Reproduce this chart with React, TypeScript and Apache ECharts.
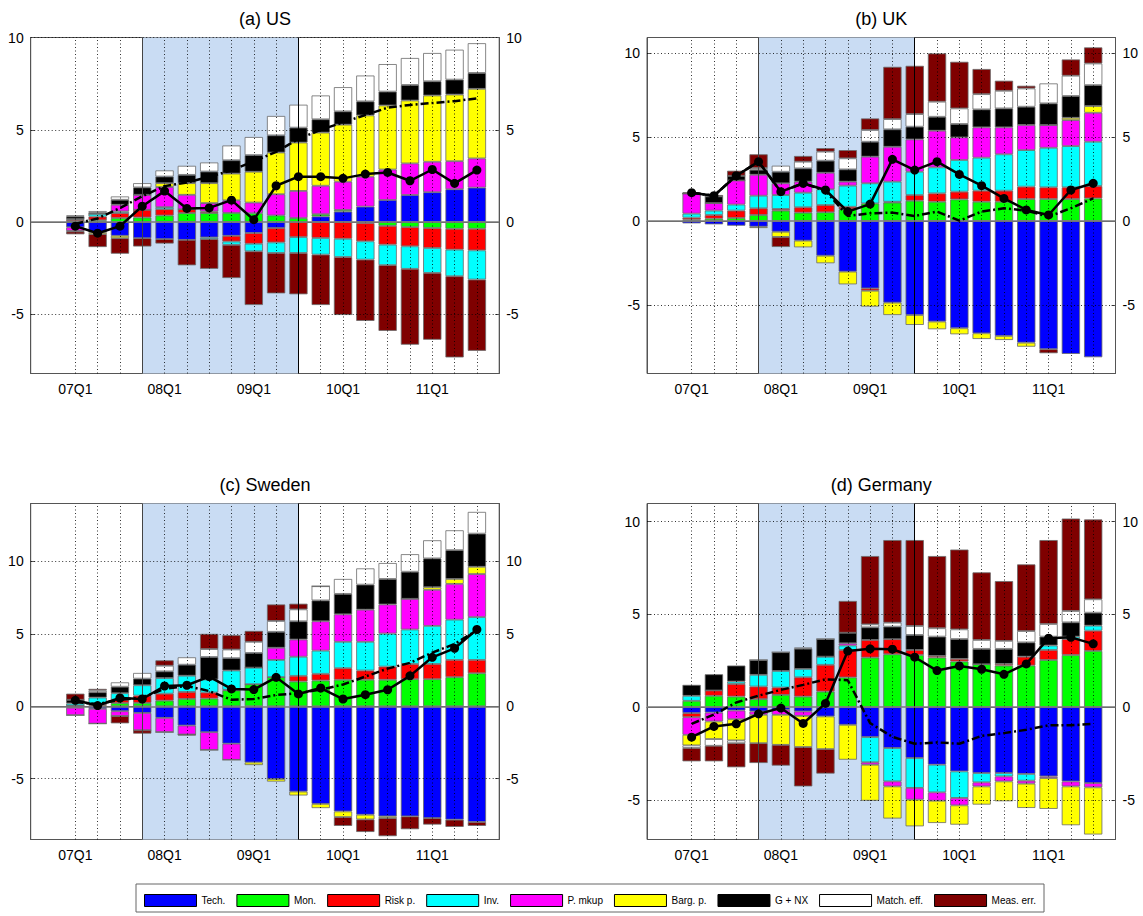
import { useEffect, useRef } from 'react';
import * as echarts from 'echarts';

// ---------- categories & ticks ----------
const QUARTERS = ['06Q3', '06Q4', '07Q1', '07Q2', '07Q3', '07Q4', '08Q1', '08Q2', '08Q3', '08Q4', '09Q1', '09Q2', '09Q3', '09Q4', '10Q1', '10Q2', '10Q3', '10Q4', '11Q1', '11Q2', '11Q3', '11Q4'];
const FIRST_Q = '07Q1';
const LAST_Q = '11Q3';
const SHADE_FROM = '07Q4';
const SHADE_TO = '09Q3';
const Y_TICKS = [-5, 0, 5, 10];
const COMPONENTS = ['Tech.', 'Mon.', 'Risk p.', 'Inv.', 'P. mkup', 'Barg. p.', 'G + NX', 'Match. eff.', 'Meas. err.'];
const COLORS = ['#0000ff', '#00ff00', '#ff0000', '#00ffff', '#ff00ff', '#ffff00', '#000000', '#ffffff', '#7f0000'];

// ---------- (a) US ----------
const US_TECH = [-0.28, -0.55, -0.74, -0.87, -0.92, -0.96, -0.83, -0.74, -0.59, -0.32, 0, 0.31, 0.57, 0.84, 1.2, 1.47, 1.62, 1.78, 1.87];
const US_MON = [0.05, 0.1, 0.22, 0.25, 0.36, 0.49, 0.49, 0.5, 0.48, 0.36, 0.22, 0.12, 0.09, -0.05, -0.2, -0.27, -0.32, -0.36, -0.36];
const US_RISK = [0.08, 0.2, 0.27, 0.42, 0.34, 0.21, 0.09, -0.31, -0.58, -0.78, -0.81, -0.86, -0.9, -0.99, -1.02, -1.04, -1.08, -1.13, -1.17];
const US_INV = [0.03, 0.15, 0.09, 0, 0.11, 0, -0.09, -0.18, -0.41, -0.57, -0.86, -0.9, -0.99, -0.99, -1.11, -1.22, -1.35, -1.44, -1.58];
const US_PMKUP = [-0.2, 0, 0.36, 0.81, 1.09, 0.78, 0.45, 0.68, 0.58, 1.15, 1.47, 1.54, 1.53, 1.62, 1.65, 1.71, 1.65, 1.52, 1.58];
const US_BARG = [-0.03, -0.1, -0.13, 0, 0.21, 0.63, 1.08, 1.45, 1.67, 2.26, 2.62, 2.88, 3.09, 3.32, 3.47, 3.41, 3.59, 3.61, 3.77];
const US_GNX = [0.15, 0.05, 0.27, 0.4, 0.36, 0.45, 0.63, 0.72, 0.9, 0.93, 0.81, 0.72, 0.72, 0.76, 0.75, 0.84, 0.77, 0.81, 0.86];
const US_MATCH = [0.05, 0.1, 0.18, 0.23, 0.33, 0.49, 0.49, 0.8, 0.98, 1.05, 1.24, 1.29, 1.31, 1.4, 1.49, 1.46, 1.53, 1.62, 1.61];
const US_MEAS = [-0.15, -0.7, -0.84, -0.45, -0.24, -1.38, -1.61, -1.8, -2.91, -2.19, -2.24, -2.73, -3.14, -3.32, -3.56, -4.11, -3.62, -4.4, -3.86];
const US_SOLID = [-0.22, -0.6, -0.22, 0.86, 1.68, 0.74, 0.77, 1.19, 0.13, 1.97, 2.46, 2.46, 2.37, 2.6, 2.69, 2.24, 2.85, 2.1, 2.82];
const US_DASHED = [-0.1, 0.2, 0.76, 1.4, 1.95, 2.15, 2.45, 2.8, 3.3, 3.8, 4.5, 5.0, 5.4, 5.8, 6.2, 6.35, 6.45, 6.55, 6.7];

// ---------- (b) UK ----------
const UK_TECH = [-0.14, -0.2, -0.28, -0.34, -0.64, -1.17, -2.07, -3.02, -4.02, -4.87, -5.61, -6.0, -6.4, -6.7, -6.86, -7.26, -7.65, -7.93, -8.13];
const UK_MON = [0.08, 0.14, 0.18, 0.36, 0.62, 0.5, 0.52, 0.7, 1.05, 1.1, 1.21, 1.15, 1.29, 1.15, 1.15, 1.31, 1.31, 1.31, 1.35];
const UK_RISK = [0.12, 0.22, 0.44, 0.4, 0.1, 0.32, 0.43, 0.15, -0.14, 0.05, 0.34, 0.5, 0.46, 0.66, 0.66, 0.74, 0.7, 0.7, 0.74];
const UK_INV = [0.24, 0.26, 0.36, 0.75, 0.83, 0.87, 0.94, 1.26, 1.2, 1.2, 1.39, 1.55, 1.89, 1.97, 2.17, 2.18, 2.36, 2.46, 2.64];
const UK_PMKUP = [1.2, 0.45, 1.44, 1.25, 0.7, 0.66, 0.99, 0.24, 1.59, 2.08, 1.93, 2.19, 1.35, 1.81, 1.61, 1.5, 1.36, 1.55, 1.73];
const UK_BARG = [0, 0, 0, -0.08, -0.31, -0.4, -0.45, -0.76, -0.95, -0.74, -0.59, -0.46, -0.36, -0.34, -0.24, -0.24, 0, 0.14, 0.4];
const UK_GNX = [0, 0.4, 0.28, 0.3, 0.69, 0.79, 0.72, 0.73, 0.89, 1.04, 0.76, 0.83, 0.8, 1.07, 1.13, 1.09, 1.29, 1.3, 1.25];
const UK_MATCH = [0, 0, 0, 0.1, 0.36, 0.4, 0.54, 0.66, 0.7, 0.61, 0.75, 0.9, 0.93, 0.91, 1.05, 1.09, 1.19, 1.21, 1.29];
const UK_MEAS = [0.08, 0.08, 0.3, 0.82, -0.6, 0.34, 0.21, 0.49, 0.69, 3.12, 2.88, 2.88, 2.78, 1.5, 0.6, 0.16, -0.24, 0.97, 0.96];
const UK_SOLID = [1.69, 1.51, 2.7, 3.54, 1.75, 2.25, 1.85, 0.56, 1.01, 3.68, 3.04, 3.54, 2.78, 2.11, 1.35, 0.66, 0.36, 1.85, 2.25];
const UK_DASHED = [1.69, 1.51, 2.7, 3.54, 1.75, 2.25, 1.8, 0.3, 0.46, 0.5, 0.3, 0.56, 0.02, 0.56, 0.76, 0.62, 0.26, 0.76, 1.35];

// ---------- (c) Sweden ----------
const SE_TECH = [-0.1, -0.18, -0.34, -0.46, -0.8, -1.33, -1.79, -2.58, -3.88, -5.02, -5.89, -6.74, -7.26, -7.49, -7.6, -7.6, -7.72, -7.83, -7.99];
const SE_MON = [0.03, 0.05, 0.22, 0.23, 0.39, 0.51, 0.53, 1.1, 1.52, 2.01, 1.71, 1.78, 1.83, 1.83, 1.83, 1.87, 1.87, 2.01, 2.28];
const SE_RISK = [0.02, 0.1, 0.23, 0.51, 0.48, 0.48, 0.42, 0.04, 0, 0, 0.39, 0.46, 0.8, 0.64, 0.91, 1.05, 1.05, 1.19, 0.92];
const SE_INV = [0.15, 0.45, 0.45, 0.71, 1.08, 1.12, 0.9, 1.33, 1.15, 1.19, 1.32, 1.6, 1.82, 1.98, 2.28, 2.38, 2.63, 2.78, 2.96];
const SE_PMKUP = [-0.52, -1.02, -0.34, -1.2, -0.99, -0.62, -1.23, -1.12, 0, 0.84, 1.19, 2.03, 1.9, 2.22, 2.01, 2.12, 2.49, 2.47, 2.97];
const SE_BARG = [0, 0, 0, 0, 0, 0, 0, 0, -0.18, -0.18, -0.27, -0.29, -0.39, -0.32, -0.12, 0, 0.18, 0.34, 0.5];
const SE_GNX = [0.25, 0.37, 0.45, 0.46, 0.46, 0.76, 1.55, 0.85, 1.01, 1.1, 1.26, 1.44, 1.41, 1.73, 1.76, 1.87, 1.99, 1.99, 2.29];
const SE_MATCH = [0, 0.13, 0.3, 0.39, 0.39, 0.51, 0.55, 0.6, 0.77, 0.75, 0.82, 0.98, 1.03, 1.12, 1.1, 1.21, 1.25, 1.37, 1.5];
const SE_MEAS = [0.42, 0.1, -0.5, -0.23, 0.37, -0.07, 1.05, 0.99, 0.75, 1.14, 0.39, 0, -0.61, -0.87, -1.25, -0.89, -0.45, -0.5, -0.27];
const SE_SOLID = [0.41, 0.05, 0.57, 0.5, 1.4, 1.45, 2.05, 1.2, 1.15, 2.0, 0.85, 1.26, 0.5, 0.8, 1.14, 2.1, 3.38, 4.0, 5.3];
const SE_DASHED = [0.3, 0.15, 0.45, 0.6, 1.2, 1.4, 1.05, 0.45, 0.5, 0.78, 0.9, 1.15, 1.5, 2.05, 2.6, 3.0, 3.7, 4.3, 5.25];

// ---------- (d) Germany ----------
const DE_TECH = [-0.32, -0.29, -0.18, -0.23, -0.14, -0.23, -0.5, -0.95, -1.61, -2.2, -2.74, -3.1, -3.46, -3.55, -3.55, -3.6, -3.73, -4.0, -4.09];
const DE_MON = [0.34, 0.61, 0.57, 0.43, 0.66, 0.57, 0.84, 1.6, 2.67, 2.85, 2.81, 2.67, 2.46, 2.31, 2.24, 2.24, 2.54, 2.81, 3.03];
const DE_RISK = [-0.22, 0.29, 0.68, 0.68, 0.4, 1.04, 1.44, 1.48, 0.95, 0.81, 0.27, 0.09, 0.14, 0, 0.09, 0.48, 0.54, 0.86, 1.09];
const DE_INV = [0.27, 0, 0.13, 0.63, 0.89, 0.45, 0.44, 0.24, -1.36, -1.8, -1.61, -1.49, -1.43, -0.5, -0.18, -0.36, 0.24, 0.13, 0.27];
const DE_PMKUP = [-0.95, -0.48, -0.47, -0.18, -0.27, -0.24, 0, 0.12, -0.13, -0.27, -0.63, -0.45, -0.4, -0.22, -0.27, -0.16, -0.09, -0.27, -0.23];
const DE_BARG = [-0.57, -0.95, -1.14, -1.53, -1.62, -1.68, -1.76, -1.88, -1.94, -1.73, -1.44, -1.2, -1.04, -0.98, -1.07, -1.31, -1.66, -2.09, -2.54];
const DE_GNX = [0.59, 0.87, 0.86, 0.8, 1.01, 1.09, 0.95, 0.57, 0.68, 0.68, 0.81, 1.04, 1.07, 0.83, 0.81, 0.77, 0.48, 0.77, 0.7];
const DE_MATCH = [-0.14, -0.36, -0.15, 0, 0, 0.06, 0, 0, 0.16, 0.21, 0.48, 0.45, 0.52, 0.48, 0.43, 0.61, 0.68, 0.61, 0.72];
const DE_MEAS = [-0.72, -0.84, -1.3, -1.07, -1.12, -2.12, -1.32, 1.71, 3.68, 4.45, 4.63, 3.89, 4.3, 3.64, 3.22, 3.59, 4.52, 4.98, 4.3];
const DE_SOLID = [-1.62, -1.04, -0.9, -0.36, -0.05, -0.88, 0.2, 3.02, 3.14, 3.12, 2.69, 1.97, 2.22, 2.04, 1.77, 2.33, 3.71, 3.76, 3.41];
const DE_DASHED = [-0.9, -0.4, 0.25, 0.62, 0.93, 1.2, 1.5, 1.45, -0.86, -1.6, -1.97, -1.9, -1.97, -1.55, -1.4, -1.22, -0.98, -0.98, -0.9];

const PANELS = [
  { title: '(a) US', comps: [US_TECH, US_MON, US_RISK, US_INV, US_PMKUP, US_BARG, US_GNX, US_MATCH, US_MEAS], solid: US_SOLID, dashed: US_DASHED, min: -8.2, max: 10, left: 30.7, top: 37.5 },
  { title: '(b) UK', comps: [UK_TECH, UK_MON, UK_RISK, UK_INV, UK_PMKUP, UK_BARG, UK_GNX, UK_MATCH, UK_MEAS], solid: UK_SOLID, dashed: UK_DASHED, min: -9.1, max: 10.95, left: 647, top: 37.5 },
  { title: '(c) Sweden', comps: [SE_TECH, SE_MON, SE_RISK, SE_INV, SE_PMKUP, SE_BARG, SE_GNX, SE_MATCH, SE_MEAS], solid: SE_SOLID, dashed: SE_DASHED, min: -9.2, max: 14, left: 30.7, top: 503.5 },
  { title: '(d) Germany', comps: [DE_TECH, DE_MON, DE_RISK, DE_INV, DE_PMKUP, DE_BARG, DE_GNX, DE_MATCH, DE_MEAS], solid: DE_SOLID, dashed: DE_DASHED, min: -7.13, max: 10.97, left: 647, top: 503.5 },
];

const GRID_W = 468.5;
const GRID_H = 336;
const FONT = 'Liberation Sans, Arial, Helvetica, sans-serif';
const AXIS_COLOR = '#555555';

function buildOption() {
  const first = QUARTERS.indexOf(FIRST_Q);
  const last = QUARTERS.indexOf(LAST_Q);
  const shadeFrom = QUARTERS.indexOf(SHADE_FROM);
  const shadeTo = QUARTERS.indexOf(SHADE_TO);
  const pad = (a: number[]) => QUARTERS.map((_, i) => (i >= first && i <= last ? a[i - first] : null));
  const dotted = { type: [1, 2.5], color: '#000', width: 0.8 };

  const grid: any[] = [];
  const xAxis: any[] = [];
  const yAxis: any[] = [];
  const series: any[] = [];
  const title: any[] = [];

  PANELS.forEach((p, i) => {
    grid.push({ left: p.left, top: p.top, width: GRID_W, height: GRID_H, show: true, borderColor: AXIS_COLOR, borderWidth: 1, backgroundColor: 'transparent', containLabel: false });
    title.push({ text: p.title, left: p.left + GRID_W / 2, top: p.top - 28, textAlign: 'center', padding: 0, textStyle: { fontSize: 18, fontWeight: 'normal', color: '#000', fontFamily: FONT } });
    xAxis.push({
      type: 'category', gridIndex: i, data: QUARTERS, boundaryGap: false,
      axisLine: { show: true, lineStyle: { color: AXIS_COLOR } },
      axisTick: { show: true, inside: true, length: 4, interval: (idx: number) => idx >= first && idx <= last, lineStyle: { color: AXIS_COLOR } },
      axisLabel: { interval: (_idx: number, val: string) => val.endsWith('Q1'), fontSize: 14, color: '#000', fontFamily: FONT, margin: 8 },
      splitLine: { show: false },
    });
    ['left', 'right'].forEach((pos) => {
      yAxis.push({
        type: 'value', gridIndex: i, position: pos, min: p.min, max: p.max,
        axisLine: { show: true, lineStyle: { color: AXIS_COLOR } },
        axisTick: { show: true, inside: true, length: 4, customValues: Y_TICKS, lineStyle: { color: AXIS_COLOR } },
        axisLabel: { customValues: Y_TICKS, fontSize: 14, color: '#000', fontFamily: FONT, margin: 7 },
        splitLine: { show: false },
      });
    });

    const vLines = QUARTERS.map((q, idx) => (idx >= first && idx <= last && idx !== shadeFrom && idx !== shadeTo ? { xAxis: q, lineStyle: dotted } : null)).filter(Boolean);
    const hLines = Y_TICKS.filter((v) => v !== 0 && v >= p.min && v <= p.max).map((v) => ({ yAxis: v, lineStyle: dotted }));
    const edgeLines = [
      { xAxis: SHADE_FROM, lineStyle: { type: 'solid', color: '#444', width: 1 } },
      { xAxis: SHADE_TO, lineStyle: { type: 'solid', color: '#000', width: 1 } },
    ];
    const zeroLine = { yAxis: 0, lineStyle: { type: 'solid', color: '#7a7a7a', width: 1.5 } };

    p.comps.forEach((arr, k) => {
      const s: any = {
        type: 'bar', name: COMPONENTS[k], stack: 'panel' + i, xAxisIndex: i, yAxisIndex: i * 2,
        barWidth: '82%', data: pad(arr), z: 2,
        itemStyle: { color: COLORS[k], borderColor: '#6a6a6a', borderWidth: 0.8 },
        emphasis: { disabled: true },
      };
      if (k === 0) {
        // markArea on a category axis extends to the end of the closing band, so close it one quarter earlier
        s.markArea = { silent: true, itemStyle: { color: '#c9dcf3', borderWidth: 0 }, data: [[{ xAxis: QUARTERS[shadeFrom] }, { xAxis: QUARTERS[shadeTo - 1] }]] };
        s.markLine = { silent: true, symbol: ['none', 'none'], label: { show: false }, animation: false, data: [...vLines, ...hLines, ...edgeLines, zeroLine] };
      }
      series.push(s);
    });

    series.push({
      type: 'line', name: 'dashed' + i, xAxisIndex: i, yAxisIndex: i * 2, data: pad(p.dashed), z: 6,
      symbol: 'none', lineStyle: { color: '#000', width: 2.5, type: [8, 3, 2, 3] }, emphasis: { disabled: true },
    });
    series.push({
      type: 'line', name: 'solid' + i, xAxisIndex: i, yAxisIndex: i * 2, data: pad(p.solid), z: 7,
      symbol: 'circle', symbolSize: 9, lineStyle: { color: '#000', width: 2.5 }, itemStyle: { color: '#000' }, emphasis: { disabled: true },
    });
  });

  return {
    animation: false,
    backgroundColor: '#ffffff',
    textStyle: { fontFamily: FONT },
    title,
    grid,
    xAxis,
    yAxis,
    series,
    legend: {
      data: COMPONENTS, left: 136, top: 884, orient: 'horizontal', icon: 'rect',
      itemWidth: 52, itemHeight: 12, itemGap: 11, padding: [10, 8, 5, 8],
      borderColor: '#666', borderWidth: 1, selectedMode: false,
      itemStyle: { borderColor: '#000', borderWidth: 1 },
      textStyle: { fontSize: 10, color: '#000', fontFamily: FONT },
    },
  };
}

export default function App() {
  const ref = useRef<HTMLDivElement>(null);
  useEffect(() => {
    const chart = echarts.init(ref.current as HTMLDivElement, null, { renderer: 'svg' });
    chart.setOption(buildOption() as any);
    return () => chart.dispose();
  }, []);
  return <div ref={ref} style={{ position: 'absolute', left: 0, top: 0, width: 1143, height: 916, background: '#fff' }} />;
}
